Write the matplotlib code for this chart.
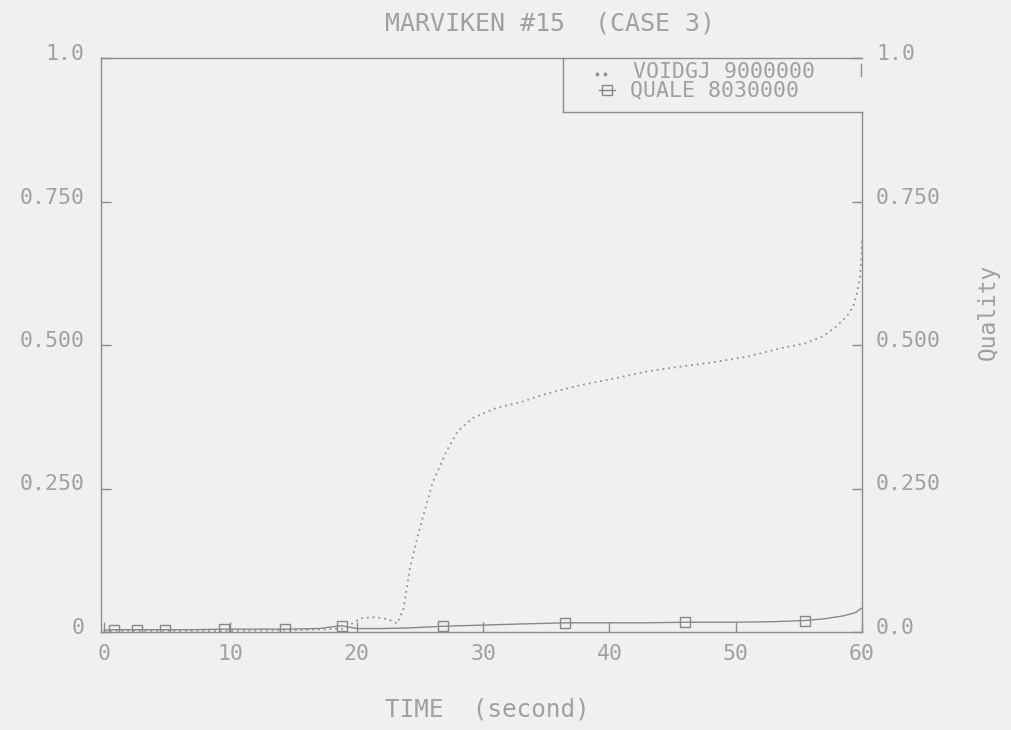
import numpy as np
import matplotlib
matplotlib.use("Agg")
import matplotlib.pyplot as plt
import matplotlib.transforms as mtransforms

# VOIDGJ 9000000 (void fraction, dotted)
t_void = [0, 5, 10, 15, 19, 20.3, 21.5, 22.5, 23.2, 23.7, 24.2, 24.8, 25.3, 26.0,
          27.1, 28.0, 29.2, 31.0, 32.9, 35.0, 37.7, 40.0, 43.0, 45.5, 48.2, 51.0,
          53.5, 55.5, 56.9, 58.0, 58.8, 59.3, 59.6, 59.85, 59.95, 60.0]
void = [0.002, 0.002, 0.002, 0.003, 0.006, 0.024, 0.026, 0.022, 0.015, 0.04, 0.11,
        0.165, 0.205, 0.26, 0.315, 0.35, 0.373, 0.39, 0.40, 0.415, 0.43, 0.44,
        0.454, 0.462, 0.47, 0.48, 0.494, 0.503, 0.515, 0.533, 0.55, 0.567, 0.59,
        0.62, 0.65, 0.685]

# QUALE 8030000 (quality, solid with square symbols)
t_qual = [0, 0.8, 2.6, 4.8, 7, 9.5, 12, 14.3, 17, 18.8, 20, 22, 24, 26.8, 30, 33,
          36.5, 40, 43, 46, 50, 53, 55.5, 57, 58.5, 59.5, 60]
qual = [0.003, 0.004, 0.004, 0.004, 0.004, 0.005, 0.005, 0.005, 0.006, 0.011, 0.006,
        0.006, 0.007, 0.010, 0.012, 0.014, 0.016, 0.016, 0.016, 0.017, 0.017, 0.018,
        0.020, 0.023, 0.028, 0.034, 0.042]
qual_symbols = [1, 2, 3, 5, 7, 9, 13, 16, 19, 22]

x_ticks = [0, 10, 20, 30, 40, 50, 60]
y_ticks = [0, 0.25, 0.5, 0.75, 1.0]
left_labels = ["0", "0.250", "0.500", "0.750", "1.0"]
right_labels = ["0.0", "0.250", "0.500", "0.750", "1.0"]

title = "MARVIKEN #15  (CASE 3)"
xlabel = "TIME  (second)"
ylabel_right = "Quality"
legend_entries = ["VOIDGJ 9000000", "QUALE 8030000"]

BG = "#f0f0f0"
INK = "#a0a0a0"
LINE = "#8c8c8c"
DOT = "#939393"
SOLID = "#888888"
MONO = "DejaVu Sans Mono"

W, H = 1012, 730
fig = plt.figure(figsize=(W / 100, H / 100), dpi=100, facecolor=BG)

L, R, B, T = 101, 862, 632, 58
ax = fig.add_axes([L / W, 1 - B / H, (R - L) / W, (B - T) / H])
ax.set_facecolor(BG)
ax.set_xlim(-0.25, 60)
ax.set_ylim(0, 1)

ax.spines["right"].set_visible(False)
for side in ("left", "top", "bottom"):
    ax.spines[side].set_color(LINE)
    ax.spines[side].set_linewidth(1.0)

# right border stops below the legend box
leg_bottom = (B - 112) / (B - T)
ax.plot([1, 1], [0, leg_bottom], transform=ax.transAxes, color=LINE, lw=1.0,
        clip_on=False)

ax.plot(t_void, void, linestyle=(0, (1, 2.2)), color=DOT, lw=1.3)
ax.plot(t_qual, qual, color=SOLID, lw=1.0, marker="s", markevery=qual_symbols,
        markersize=7, markerfacecolor="none", markeredgecolor=SOLID,
        markeredgewidth=1.0)

tick_font = dict(family=MONO, color=INK, fontsize=15.5)
ax.set_xticks(x_ticks)
ax.set_xticklabels([str(v) for v in x_ticks], **tick_font)
ax.set_yticks(y_ticks)
ax.set_yticklabels(left_labels, **tick_font)
ax.tick_params(axis="both", direction="in", length=7, color=LINE, width=1.0)
ax.tick_params(axis="x", pad=9)
ax.tick_params(axis="y", pad=12)
shift = mtransforms.ScaledTranslation(0, 6 / 100, fig.dpi_scale_trans)
for lab in ax.get_yticklabels():
    lab.set_transform(lab.get_transform() + shift)

ax2 = ax.twinx()
ax2.set_ylim(0, 1)
for side in ("left", "right", "top", "bottom"):
    ax2.spines[side].set_visible(False)
ax2.set_yticks(y_ticks)
ax2.set_yticklabels(right_labels, **tick_font)
ax2.tick_params(axis="y", direction="in", length=7, color=LINE, width=1.0, pad=10)
for lab in ax2.get_yticklabels():
    lab.set_transform(lab.get_transform() + shift)

fig.text(988 / W, 1 - 312 / H, ylabel_right, rotation=90, ha="center", va="center",
         family=MONO, color=INK, fontsize=16.5)
fig.text(550 / W, 1 - 24 / H, title, ha="center", va="center",
         family=MONO, color=INK, fontsize=18)
fig.text(487 / W, 1 - 710 / H, xlabel, ha="center", va="center",
         family=MONO, color=INK, fontsize=17.5)

# legend box in the upper right corner
def ax_xy(px, py):
    return (px - L) / (R - L), (B - py) / (B - T)

x0, y0 = ax_xy(563, 58)
x1, y1 = ax_xy(563, 112)
ax.plot([x0, x1], [y0, y1], transform=ax.transAxes, color=LINE, lw=1.0, clip_on=False)
xb, yb = ax_xy(862, 112)
ax.plot([x1, xb], [y1, yb], transform=ax.transAxes, color=LINE, lw=1.0, clip_on=False)
xr0, yr0 = ax_xy(861, 64)
xr1, yr1 = ax_xy(861, 76)
ax.plot([xr0, xr1], [yr0, yr1], transform=ax.transAxes, color=LINE, lw=1.0, clip_on=False)

sx, sy = ax_xy(601, 74)
ax.plot([sx - 0.005, sx + 0.005], [sy, sy], transform=ax.transAxes, linestyle="none",
        marker="o", markersize=1.8, color=DOT, clip_on=False)
mx, my = ax_xy(607, 90)
ax.plot([mx - 0.01, mx + 0.01], [my, my], transform=ax.transAxes, color=SOLID,
        lw=1.0, clip_on=False)
ax.plot([mx], [my], transform=ax.transAxes, marker="s", markersize=7,
        markerfacecolor="none", markeredgecolor=SOLID, clip_on=False)
for txt, px, py in zip(legend_entries, [633, 630], [72, 90]):
    tx, ty = ax_xy(px, py)
    ax.text(tx, ty, txt, transform=ax.transAxes, ha="left", va="center",
            family=MONO, color=INK, fontsize=15.5)

fig.savefig("out.png", dpi=100, facecolor=BG)
